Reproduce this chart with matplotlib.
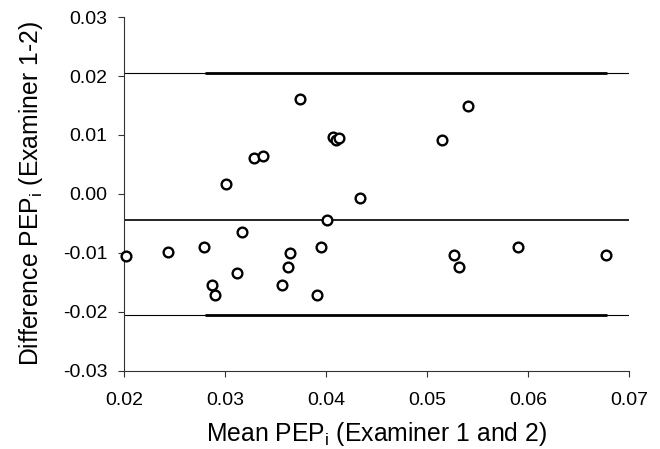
import numpy as np
import matplotlib.pyplot as plt

plt.rcParams['font.family'] = ['Liberation Sans', 'DejaVu Sans']

# Mean PEP_i of the two examiners and their difference
meanPEP = [0.02017, 0.02436, 0.02795, 0.02875, 0.02898, 0.03013, 0.03115,
           0.03168, 0.03287, 0.03376, 0.03568, 0.03620, 0.03644, 0.03743,
           0.03911, 0.03947, 0.04013, 0.04073, 0.04099, 0.04125, 0.04337,
           0.05145, 0.05403, 0.05267, 0.05317, 0.05898, 0.06769]
diffPEP = [-0.01046, -0.00983, -0.00893, -0.01548, -0.01706, 0.00164, -0.01345,
           -0.00644, 0.00605, 0.00650, -0.01548, -0.01243, -0.00994, 0.01610,
           -0.01718, -0.00904, -0.00435, 0.00960, 0.00915, 0.00955, -0.00073,
           0.00915, 0.01492, -0.01034, -0.01243, -0.00893, -0.01034]

# Bias and limits of agreement
bias = -0.0044
upperLoA = 0.0205
lowerLoA = -0.0205
loaSpan = [0.0280, 0.0678]

xTicks = [0.02, 0.03, 0.04, 0.05, 0.06, 0.07]
yTicks = [-0.03, -0.02, -0.01, 0.00, 0.01, 0.02, 0.03]

fig = plt.figure(figsize=(6.6, 4.49), dpi=100)
ax = fig.add_axes([0.188, 0.174, 0.765, 0.788])

# Limits of agreement: thin full-width line plus thick segment
for lim in (upperLoA, lowerLoA):
    ax.axhline(lim, color="black", lw=0.8)
    ax.plot(loaSpan, [lim, lim], color="black", lw=2.0, solid_capstyle="butt")
ax.axhline(bias, color="black", lw=1.2)

ax.plot(meanPEP, diffPEP, "o", mfc="white", mec="black", ms=7, mew=1.7,
        clip_on=False, zorder=3)

ax.set_xlim(0.02, 0.07)
ax.set_ylim(-0.03, 0.03)
ax.set_xticks(xTicks)
ax.set_yticks(yTicks)
ax.set_xticklabels(["%.2f" % v for v in xTicks])
ax.set_yticklabels(["%.2f" % v for v in yTicks])
ax.tick_params(direction="out", length=4, width=0.8, labelsize=14,
               color="#333333")
ax.tick_params(axis="x", pad=11)
ax.tick_params(axis="y", pad=8)
ax.spines["top"].set_visible(False)
ax.spines["right"].set_visible(False)
for s in ("left", "bottom"):
    ax.spines[s].set_linewidth(0.8)
    ax.spines[s].set_color("#333333")

ax.set_xlabel("Mean PEP$_\\mathregular{i}$ (Examiner 1 and 2)", fontsize=17.8,
              labelpad=8)
ax.set_ylabel("Difference PEP$_\\mathregular{i}$ (Examiner 1-2)", fontsize=17.8,
              labelpad=13)

fig.savefig("out.png", dpi=100)
